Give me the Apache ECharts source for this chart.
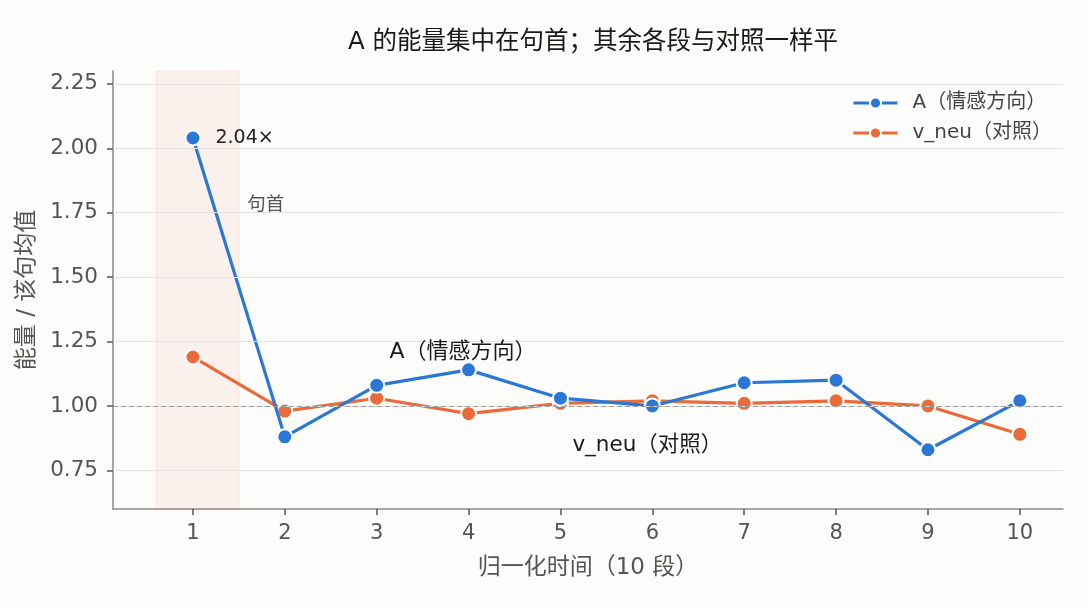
<!DOCTYPE html>
<html>
<head>
<meta charset="utf-8">
<script src="https://cdn.jsdelivr.net/npm/echarts@6/dist/echarts.min.js"></script>
<style>
  html, body { margin: 0; padding: 0; background: #fcfcfb; }
  #main { width: 1088px; height: 608px; }
</style>
</head>
<body>
<div id="main"></div>
<script>
// 数据
var segments = [1, 2, 3, 4, 5, 6, 7, 8, 9, 10];
var energyA = [2.04, 0.88, 1.08, 1.14, 1.03, 1.00, 1.09, 1.10, 0.83, 1.02];
var energyNeu = [1.19, 0.98, 1.03, 0.97, 1.01, 1.02, 1.01, 1.02, 1.00, 0.89];
var yTicks = [0.75, 1.00, 1.25, 1.50, 1.75, 2.00, 2.25];
var seriesNames = ['A（情感方向）', 'v_neu（对照）'];

var blue = '#2a77d6';
var orange = '#ea6a3a';
var font = "'DejaVu Sans', 'Noto Sans CJK SC', sans-serif";

function pairs(vals) {
  return segments.map(function (s, i) { return [s, vals[i]]; });
}

var dataA = pairs(energyA);
// 句首标注
dataA[0] = {
  value: dataA[0],
  label: {
    show: true,
    position: 'right',
    distance: 14,
    color: '#222',
    fontSize: 19,
    fontFamily: font,
    formatter: function (p) { return p.value[1].toFixed(2) + '×'; }
  }
};

var chart = echarts.init(document.getElementById('main'), null, {renderer: 'canvas'});

var option = {
  backgroundColor: '#fcfcfb',
  animation: false,
  title: {
    text: 'A 的能量集中在句首；其余各段与对照一样平',
    left: 588,
    textAlign: 'center',
    top: 25,
    textStyle: {color: '#1a1a1a', fontSize: 24.5, fontWeight: 'normal', fontFamily: font}
  },
  legend: {
    orient: 'vertical',
    left: 847,
    top: 88,
    itemWidth: 44,
    itemHeight: 14,
    itemGap: 10,
    lineStyle: {width: 3},
    textStyle: {color: '#444', fontSize: 20, fontFamily: font, padding: [0, 0, 0, 10]},
    data: seriesNames
  },
  grid: {left: 113, right: 25, top: 71, bottom: 99},
  xAxis: {
    type: 'value',
    min: 0.13,
    max: 10.47,
    name: '归一化时间（10 段）',
    nameLocation: 'middle',
    nameGap: 48,
    nameTextStyle: {color: '#555', fontSize: 23, fontFamily: font},
    axisLine: {lineStyle: {color: '#8a8a85', width: 1.5}},
    axisTick: {show: true, length: 6, customValues: segments, lineStyle: {color: '#555', width: 1.5}},
    axisLabel: {customValues: segments, color: '#555', fontSize: 21, margin: 14, fontFamily: font},
    splitLine: {show: false}
  },
  yAxis: {
    type: 'value',
    min: 0.6,
    max: 2.3,
    name: '能量 / 该句均值',
    nameLocation: 'middle',
    nameGap: 74,
    nameTextStyle: {color: '#555', fontSize: 23, fontFamily: font},
    axisLine: {show: true, lineStyle: {color: '#8a8a85', width: 1.5}},
    axisTick: {show: true, length: 6, customValues: yTicks, lineStyle: {color: '#555', width: 1.5}},
    axisLabel: {
      customValues: yTicks,
      color: '#555',
      fontSize: 21.5,
      margin: 15,
      fontFamily: font,
      formatter: function (v) { return v.toFixed(2); }
    },
    splitLine: {show: false}
  },
  series: [
    {
      // 网格线 + 句首区域
      type: 'line',
      data: [],
      z: 1,
      silent: true,
      markLine: {
        silent: true,
        symbol: 'none',
        label: {show: false},
        lineStyle: {color: '#e3e3e1', width: 1.2, type: 'solid'},
        data: yTicks.map(function (t) { return {yAxis: t}; })
      },
      markArea: {
        silent: true,
        itemStyle: {color: 'rgba(234,106,58,0.08)', borderColor: 'rgba(234,106,58,0.12)', borderWidth: 1},
        data: [[{xAxis: 0.6}, {xAxis: 1.5}]]
      }
    },
    {
      type: 'line',
      data: [],
      z: 1.5,
      silent: true,
      markLine: {
        silent: true,
        symbol: 'none',
        label: {show: false},
        lineStyle: {color: '#9e9e9e', width: 1.2, type: [5, 3]},
        data: [{yAxis: 1}]
      },
      markPoint: {
        silent: true,
        symbol: 'circle',
        symbolSize: 0,
        data: [
          {coord: [1.59, 1.78], label: {show: true, formatter: '句首', position: 'right', distance: 0, color: '#555', fontSize: 18.5, fontFamily: font}},
          {coord: [3.14, 1.21], label: {show: true, formatter: seriesNames[0], position: 'right', distance: 0, color: '#1a1a1a', fontSize: 22, fontFamily: font}},
          {coord: [5.13, 0.845], label: {show: true, formatter: seriesNames[1], position: 'right', distance: 0, color: '#1a1a1a', fontSize: 21.5, fontFamily: font}}
        ]
      }
    },
    {
      name: seriesNames[1],
      type: 'line',
      z: 3,
      data: pairs(energyNeu),
      symbol: 'circle',
      symbolSize: 15,
      lineStyle: {color: orange, width: 3.2},
      itemStyle: {color: orange, borderColor: '#fff', borderWidth: 2}
    },
    {
      name: seriesNames[0],
      type: 'line',
      z: 4,
      data: dataA,
      symbol: 'circle',
      symbolSize: 15,
      lineStyle: {color: blue, width: 3.2},
      itemStyle: {color: blue, borderColor: '#fff', borderWidth: 2}
    }
  ]
};

chart.setOption(option);
</script>
</body>
</html>
